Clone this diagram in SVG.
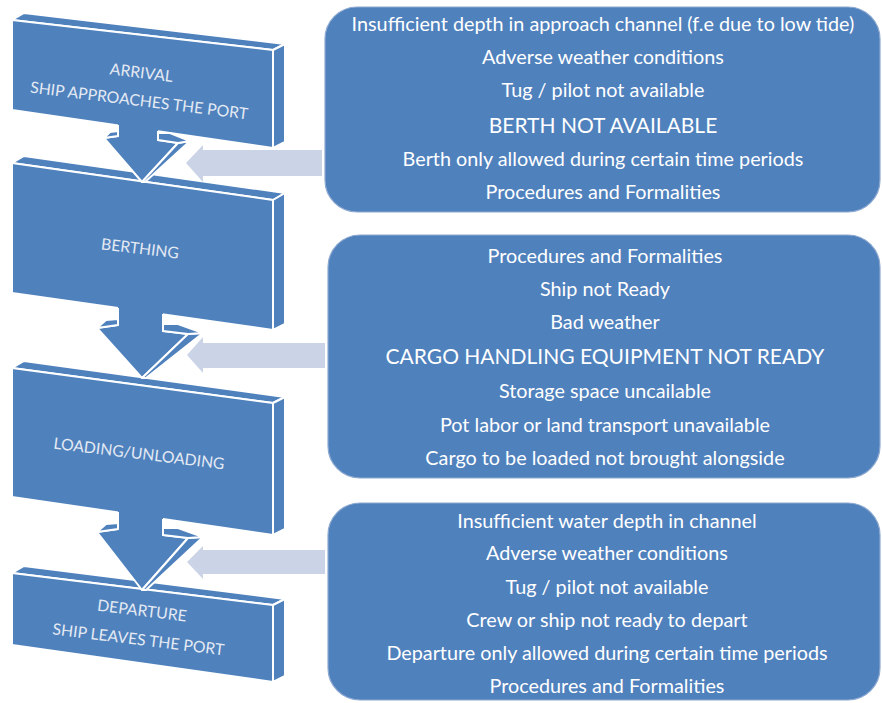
<svg xmlns="http://www.w3.org/2000/svg" width="882" height="703" viewBox="0 0 882 703">
<style>
.face{fill:#4F81BD;stroke:#ffffff;stroke-width:2;stroke-linejoin:round}
.afill{fill:#4F81BD;stroke:none}
.aline{fill:none;stroke:#ffffff;stroke-width:2;stroke-linejoin:round}
.box{fill:#4F81BD;stroke:#8EA9D0;stroke-width:1.2}
.ptr{fill:#CBD4E6;stroke:none}
.bt{font-family:Lato,"Liberation Sans",sans-serif;font-size:19.8px;fill:#ffffff;text-anchor:middle}
.big{font-size:21px}
.lt{font-family:Lato,"Liberation Sans",sans-serif;font-size:15.8px;fill:#E4EAF3;text-anchor:middle}
</style>
<rect width="882" height="703" fill="#ffffff"/>

<g id="arrival">
<polygon class="face" points="12,20 24,13 285,44 273,50"/>
<polygon class="face" points="273,50 285,44 285,142 273,148"/>
<polygon class="face" points="12,20 273,50 273,148 12,110"/>
<g transform="rotate(7 140 85)">
<text class="lt" x="140" y="78">ARRIVAL</text>
<text class="lt" x="141" y="106">SHIP APPROACHES THE PORT</text>
</g>
</g>

<g id="berthing">
<polygon class="face" points="12,163 24,156 285,193 273,200"/>
<polygon class="face" points="273,200 285,193 285,324 273,330"/>
<polygon class="face" points="12,163 273,200 273,330 12,293"/>
<text class="lt" x="140" y="254" transform="rotate(7 140 249)">BERTHING</text>
</g>

<g id="loading">
<polygon class="face" points="12,368 24,361 285,397 273,403"/>
<polygon class="face" points="273,403 285,397 285,529 273,535"/>
<polygon class="face" points="12,368 273,403 273,535 12,497"/>
<text class="lt" x="139" y="459" transform="rotate(7 139 454)">LOADING/UNLOADING</text>
</g>

<g id="departure">
<polygon class="face" points="12,573 24,566 285,599 273,605"/>
<polygon class="face" points="273,605 285,599 285,676 273,682"/>
<polygon class="face" points="12,573 273,605 273,682 12,645"/>
<g transform="rotate(7 140 627)">
<text class="lt" x="140" y="616">DEPARTURE</text>
<text class="lt" x="140" y="645">SHIP LEAVES THE PORT</text>
</g>
</g>

<g id="connectors">
<!-- flow arrow 1 -->
<polygon class="afill" points="118,120 118,136 104,138 142,182 178,143 158,140 158,126"/>
<polyline class="aline" points="118,125 118,136 104,138 142,182 178,143 158,140 158,131"/>
<polygon class="face" points="178,143 190,141 145,182 142,182"/>
<polygon class="face" points="158,133 170,133 190,141 178,143 158,140"/>
<polygon class="face" points="104,138 118,136 118,131 110,132"/>
<!-- flow arrow 2 -->
<polygon class="afill" points="118,305 118,325 97,328 142,378 188,334 163,331 163,311"/>
<polyline class="aline" points="118,308 118,325 97,328 142,378 188,334 163,331 163,314"/>
<polygon class="face" points="188,334 203,333 146,378 142,378"/>
<polygon class="face" points="163,324 178,324 203,333 188,334 163,331"/>
<polygon class="face" points="97,328 118,325 118,319 106,320"/>
<!-- flow arrow 3 -->
<polygon class="afill" points="118,509 118,529 97,532 142,590 188,538 163,535 163,516"/>
<polyline class="aline" points="118,512 118,529 97,532 142,590 188,538 163,535 163,519"/>
<polygon class="face" points="188,538 203,537 146,590 142,590"/>
<polygon class="face" points="163,528 178,528 203,537 188,538 163,535"/>
<polygon class="face" points="97,532 118,529 118,523 106,524"/>
<!-- pointer arrows -->
<polygon class="ptr" points="186,163 203,145 203,150 322,150 322,176 203,176 203,182"/>
<polygon class="ptr" points="187,355 203,337 203,343 325,343 325,368 203,368 203,373"/>
<polygon class="ptr" points="187,562 203,546 203,550 325,550 325,574 203,574 203,579"/>
</g>

<g id="causes-arrival">
<rect class="box" x="325" y="7" width="555" height="205" rx="32" ry="32"/>
<text class="bt" x="603" y="31">Insufficient depth in approach channel (f.e due to low tide)</text>
<text class="bt" x="603" y="64">Adverse weather conditions</text>
<text class="bt" x="603" y="97">Tug / pilot not available</text>
<text class="bt big" x="603" y="133">BERTH NOT AVAILABLE</text>
<text class="bt" x="603" y="166">Berth only allowed during certain time periods</text>
<text class="bt" x="603" y="199">Procedures and Formalities</text>
</g>

<g id="causes-berthing">
<rect class="box" x="328" y="235" width="552" height="243" rx="32" ry="32"/>
<text class="bt" x="605" y="263">Procedures and Formalities</text>
<text class="bt" x="605" y="296">Ship not Ready</text>
<text class="bt" x="605" y="329">Bad weather</text>
<text class="bt big" x="605" y="364">CARGO HANDLING EQUIPMENT NOT READY</text>
<text class="bt" x="605" y="398">Storage space uncailable</text>
<text class="bt" x="605" y="432">Pot labor or land transport unavailable</text>
<text class="bt" x="605" y="465">Cargo to be loaded not brought alongside</text>
</g>

<g id="causes-departure">
<rect class="box" x="328" y="503" width="552" height="197" rx="32" ry="32"/>
<text class="bt" x="607" y="528">Insufficient water depth in channel</text>
<text class="bt" x="607" y="560">Adverse weather conditions</text>
<text class="bt" x="607" y="594">Tug / pilot not available</text>
<text class="bt" x="607" y="627">Crew or ship not ready to depart</text>
<text class="bt" x="607" y="660">Departure only allowed during certain time periods</text>
<text class="bt" x="607" y="693">Procedures and Formalities</text>
</g>
</svg>
